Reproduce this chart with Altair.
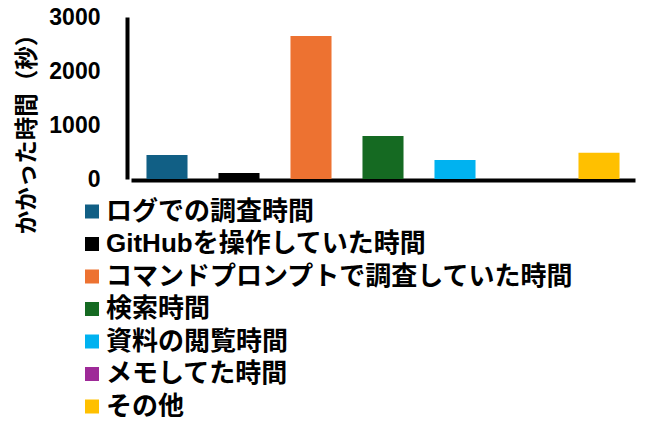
import altair as alt
import pandas as pd

categories = [
    "ログでの調査時間",
    "GitHubを操作していた時間",
    "コマンドプロンプトで調査していた時間",
    "検索時間",
    "資料の閲覧時間",
    "メモしてた時間",
    "その他",
]
values = [444, 111, 2648, 796, 352, 0, 487]
colors = ["#115f85", "#000000", "#ed7231", "#156a22", "#00b2f0", "#9e2a98", "#ffc000"]
y_ticks = [0, 1000, 2000, 3000]

df = pd.DataFrame({"cat": categories, "value": values})

FONT = "Liberation Sans, Noto Sans CJK JP, sans-serif"
CJK = "Noto Sans CJK JP, sans-serif"

chart = (
    alt.Chart(df)
    .mark_bar()
    .encode(
        x=alt.X(
            "cat:N",
            sort=categories,
            scale=alt.Scale(paddingInner=0.43, paddingOuter=0.215),
            axis=alt.Axis(
                labels=False, ticks=False, title=None, domainColor="black",
                domainWidth=4, offset=1, grid=False,
            ),
        ),
        y=alt.Y(
            "value:Q",
            scale=alt.Scale(domain=[0, 3000], nice=False),
            axis=alt.Axis(
                values=y_ticks, format="d", title="かかった時間（秒）", ticks=False, grid=False,
                domainColor="black", domainWidth=4, offset=4,
                labelFont=FONT, labelFontSize=23, labelFontWeight="bold", labelColor="black",
                labelPadding=27, titleFont=CJK, titleFontSize=23.5, titleFontWeight="bold",
                titleColor="black", titleX=-100, titleY=111, titleBaseline="middle",
                titleAngle=270,
            ),
        ),
        color=alt.Color(
            "cat:N",
            sort=categories,
            scale=alt.Scale(domain=categories, range=colors),
            legend=alt.Legend(
                title=None, orient="none", legendX=-52, legendY=181.5,
                symbolType="square", symbolSize=196, symbolStrokeWidth=0,
                labelFont=FONT, labelFontSize=26, labelFontWeight="bold", labelColor="black",
                labelLimit=700, labelOffset=1, rowPadding=6.5, padding=0,
                symbolOpacity=1,
            ),
        ),
    )
    .properties(
        width=504, height=162,
        autosize=alt.AutoSizeParams(type="none"),
        padding={"left": 123, "top": 9, "right": 2, "bottom": 238},
    )
    .configure_view(stroke=None)
)

chart.save("out.html", embed_options={"renderer": "svg", "actions": False})
